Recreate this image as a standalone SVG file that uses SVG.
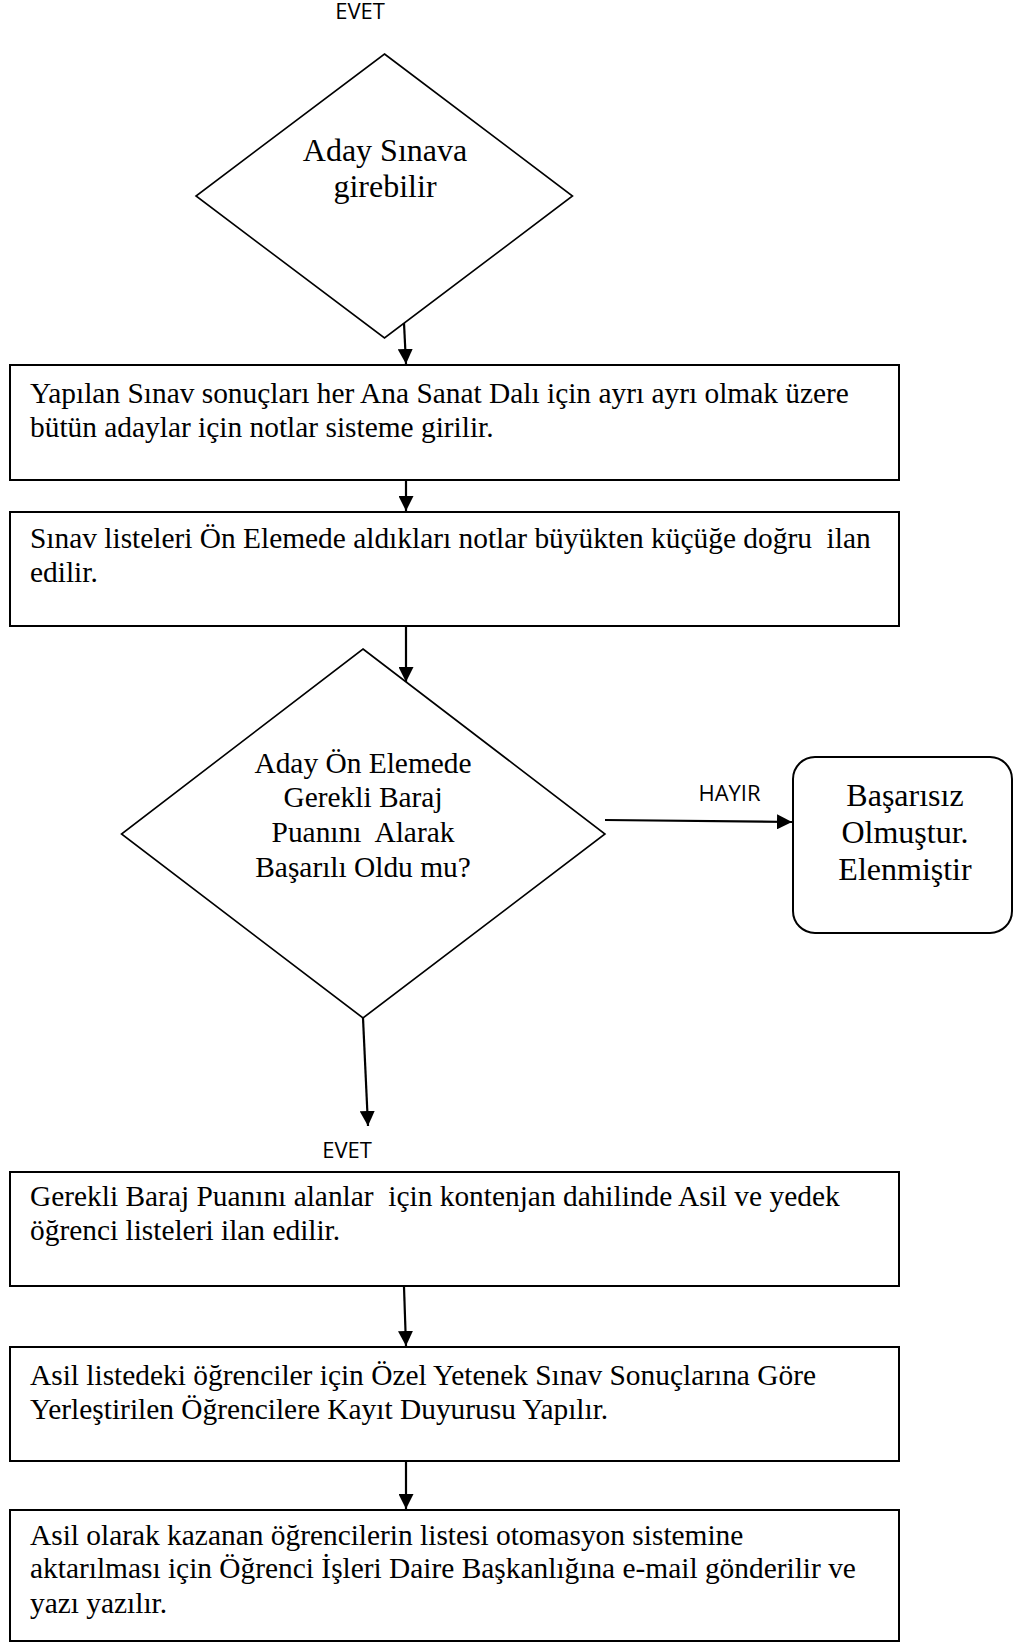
<svg xmlns="http://www.w3.org/2000/svg" width="1013" height="1645" viewBox="0 0 1013 1645">
<style>
.bg{fill:#fff}
.box{fill:#fff;stroke:#000;stroke-width:2}
.dia{fill:#fff;stroke:#000;stroke-width:1.6}
.t{font-family:"Liberation Serif","Times New Roman",serif;font-size:29.4px;fill:#000;white-space:pre}
.tc{text-anchor:middle}
.big{font-size:32px}
.lbl{font-family:"Open Sans","Noto Sans",sans-serif;font-size:22px;fill:#000;text-anchor:middle}
.con{fill:none;stroke:#000;stroke-width:2.2}
</style>
<defs>
<marker id="arr" viewBox="0 0 15 15" refX="15" refY="7.5" markerWidth="15" markerHeight="15" markerUnits="userSpaceOnUse" orient="auto">
<path d="M0,0 L15,7.5 L0,15 z" fill="#000"/>
</marker>
</defs>
<rect class="bg" x="0" y="0" width="1013" height="1645"/>

<g id="label-evet-top">
<text class="lbl" x="360" y="18.5">EVET</text>
</g>

<g id="decision1">
<polygon class="dia" points="384.5,54 572.5,196 384.5,338 196,196"/>
<text class="t tc big" x="385" y="161">Aday Sınava</text>
<text class="t tc big" x="385" y="197">girebilir</text>
</g>

<g id="process1">
<rect class="box" x="10" y="365" width="889" height="115"/>
<text class="t" x="30" y="403">Yapılan Sınav sonuçları her Ana Sanat Dalı için ayrı ayrı olmak üzere</text>
<text class="t" x="30" y="437">bütün adaylar için notlar sisteme girilir.</text>
</g>

<g id="process2">
<rect class="box" x="10" y="512" width="889" height="114"/>
<text class="t" x="30" y="548">Sınav listeleri Ön Elemede aldıkları notlar büyükten küçüğe doğru  ilan</text>
<text class="t" x="30" y="582">edilir.</text>
</g>

<g id="decision2">
<polygon class="dia" points="363,649 605,834 363,1018 121.5,834"/>
<text class="t tc" x="363" y="773">Aday Ön Elemede</text>
<text class="t tc" x="363" y="807">Gerekli Baraj</text>
<text class="t tc" x="363" y="842">Puanını  Alarak</text>
<text class="t tc" x="363" y="877">Başarılı Oldu mu?</text>
</g>

<g id="terminal-fail">
<rect class="box" x="793" y="757" width="219" height="176" rx="22" ry="22"/>
<text class="t tc big" x="905" y="806">Başarısız</text>
<text class="t tc big" x="905" y="843">Olmuştur.</text>
<text class="t tc big" x="905" y="880">Elenmiştir</text>
</g>

<g id="label-hayir">
<text class="lbl" x="729.5" y="800.5">HAYIR</text>
</g>

<g id="label-evet-bottom">
<text class="lbl" x="347" y="1158">EVET</text>
</g>

<g id="process3">
<rect class="box" x="10" y="1172" width="889" height="114"/>
<text class="t" x="30" y="1206">Gerekli Baraj Puanını alanlar  için kontenjan dahilinde Asil ve yedek</text>
<text class="t" x="30" y="1240">öğrenci listeleri ilan edilir.</text>
</g>

<g id="process4">
<rect class="box" x="10" y="1347" width="889" height="114"/>
<text class="t" x="30" y="1385">Asil listedeki öğrenciler için Özel Yetenek Sınav Sonuçlarına Göre</text>
<text class="t" x="30" y="1419">Yerleştirilen Öğrencilere Kayıt Duyurusu Yapılır.</text>
</g>

<g id="process5">
<rect class="box" x="10" y="1510" width="889" height="131"/>
<text class="t" x="30" y="1545">Asil olarak kazanan öğrencilerin listesi otomasyon sistemine</text>
<text class="t" x="30" y="1578">aktarılması için Öğrenci İşleri Daire Başkanlığına e-mail gönderilir ve</text>
<text class="t" x="30" y="1613">yazı yazılır.</text>
</g>

<g id="connectors">
<line class="con" x1="404" y1="323" x2="406" y2="364" marker-end="url(#arr)"/>
<line class="con" x1="406" y1="481" x2="406" y2="511" marker-end="url(#arr)"/>
<line class="con" x1="406" y1="627" x2="406" y2="682" marker-end="url(#arr)"/>
<line class="con" x1="605" y1="820" x2="792" y2="822" marker-end="url(#arr)"/>
<line class="con" x1="363" y1="1018" x2="368" y2="1126" marker-end="url(#arr)"/>
<line class="con" x1="404" y1="1287" x2="406" y2="1346" marker-end="url(#arr)"/>
<line class="con" x1="406" y1="1462" x2="406" y2="1509" marker-end="url(#arr)"/>
</g>
</svg>
